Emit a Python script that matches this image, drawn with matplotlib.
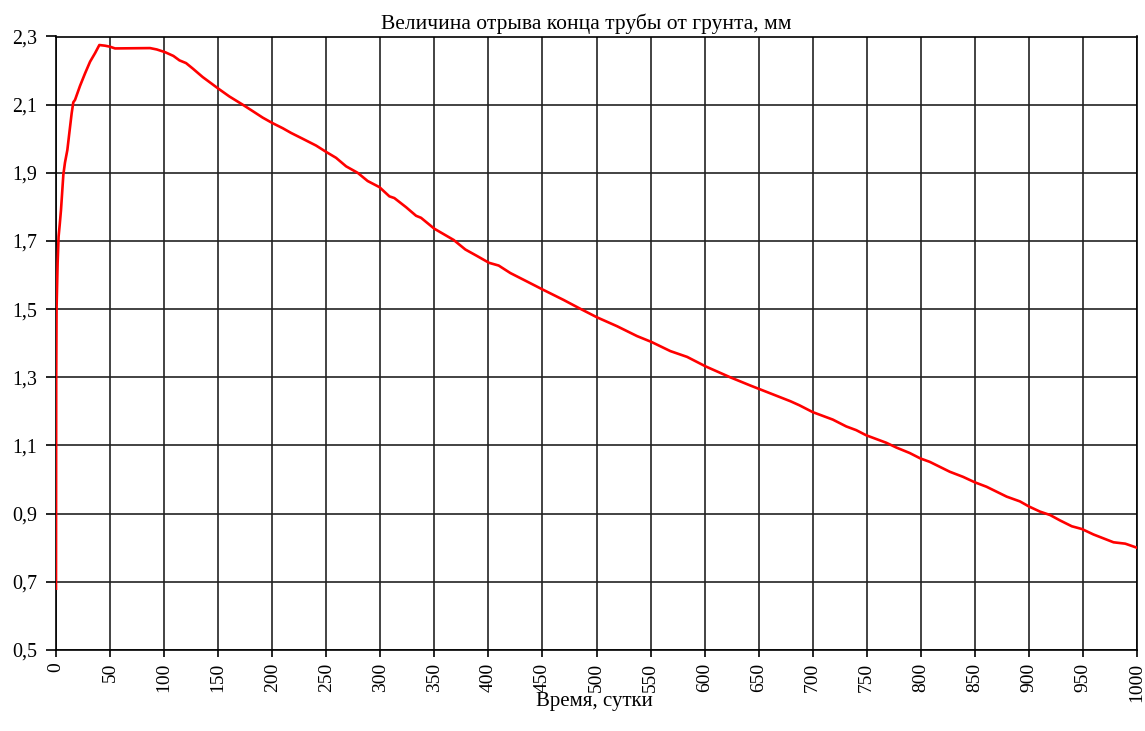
import matplotlib
matplotlib.use("Agg")
import matplotlib.pyplot as plt
from matplotlib.ticker import FuncFormatter

plt.rcParams['font.family'] = ['Liberation Serif', 'DejaVu Serif']

title = "Величина отрыва конца трубы от грунта, мм"
xlabel = "Время, сутки"

days = [0, 0.2, 0.5, 1.5, 2.4, 3.5, 4.6, 6.8, 8.3, 10.5, 12.3, 14.5, 16, 17.6,
        22.2, 26.9, 31.5, 36.1, 40.1, 45.4, 50, 54.6, 87, 93.2, 100.9, 108.6,
        114.2, 120.3, 126.5, 135.7, 150.2, 160.4, 172.7, 182, 191.2, 200.2,
        209.7, 217.5, 228.2, 240.6, 250.1, 259.1, 268.4, 279.1, 288.3, 299.2,
        308.4, 313, 323.9, 333.1, 337.7, 350, 367.9, 378.7, 389.5, 400.6,
        409.5, 420.3, 435.8, 450.6, 469.6, 485.1, 500.5, 519, 537.5, 550.7,
        568.3, 583.8, 601, 623.8, 642.3, 660.8, 679.3, 687.7, 700, 718.6, 731,
        740.3, 749.5, 768.1, 777.4, 789.7, 799.6, 808.3, 826.8, 839.1, 850,
        860.8, 879.4, 891.7, 900.1, 910.3, 919.6, 928.9, 939.7, 949, 959.7,
        978.3, 989.1, 1000]
gap = [0.68, 1.30, 1.50, 1.635, 1.713, 1.75, 1.79, 1.895, 1.93, 1.967, 2.016,
       2.075, 2.107, 2.114, 2.155, 2.192, 2.226, 2.251, 2.275, 2.273, 2.270,
       2.265, 2.266, 2.262, 2.254, 2.243, 2.230, 2.222, 2.206, 2.181, 2.147,
       2.124, 2.100, 2.081, 2.062, 2.046, 2.031, 2.017, 2.000, 1.980, 1.961,
       1.944, 1.919, 1.900, 1.876, 1.858, 1.831, 1.826, 1.799, 1.774, 1.768,
       1.736, 1.703, 1.675, 1.656, 1.636, 1.628, 1.606, 1.581, 1.557, 1.527,
       1.501, 1.476, 1.450, 1.421, 1.404, 1.377, 1.360, 1.332, 1.300, 1.276,
       1.253, 1.230, 1.218, 1.198, 1.176, 1.156, 1.145, 1.130, 1.108, 1.094,
       1.078, 1.062, 1.052, 1.023, 1.008, 0.992, 0.979, 0.950, 0.936, 0.921,
       0.906, 0.896, 0.880, 0.863, 0.855, 0.839, 0.816, 0.812, 0.800]

xticks = list(range(0, 1001, 50))
yticks = [0.5, 0.7, 0.9, 1.1, 1.3, 1.5, 1.7, 1.9, 2.1, 2.3]

fig = plt.figure(figsize=(11.45, 7.31), dpi=100)
ax = fig.add_axes([56/1145, 1 - 650/731, (1137 - 56)/1145, (650 - 36.5)/731])

ax.plot(days, gap, color='#ff0000', linewidth=1.9, zorder=3)

ax.set_xlim(0, 1000)
ax.set_ylim(0.5, 2.3)
ax.set_xticks(xticks)
ax.set_yticks(yticks)
ax.yaxis.set_major_formatter(FuncFormatter(lambda v, p: f"{v:.1f}".replace('.', ',')))
ax.tick_params(axis='x', labelrotation=90, direction='out', length=5, width=1.2,
               labelsize=14, pad=4)
ax.tick_params(axis='y', direction='out', length=7, width=1.2, labelsize=14.4, pad=6.5)
ax.grid(True, color='#222222', linewidth=1.2)
ax.set_axisbelow(True)
for s in ax.spines.values():
    s.set_color('black')
    s.set_linewidth(1.2)

fig.text(586/1145, 1 - 28.5/731, title, ha='center', va='baseline', fontsize=15.5)
fig.text(594/1145, 1 - 706/731, xlabel, ha='center', va='baseline', fontsize=15)

fig.savefig("out.png", dpi=100)
